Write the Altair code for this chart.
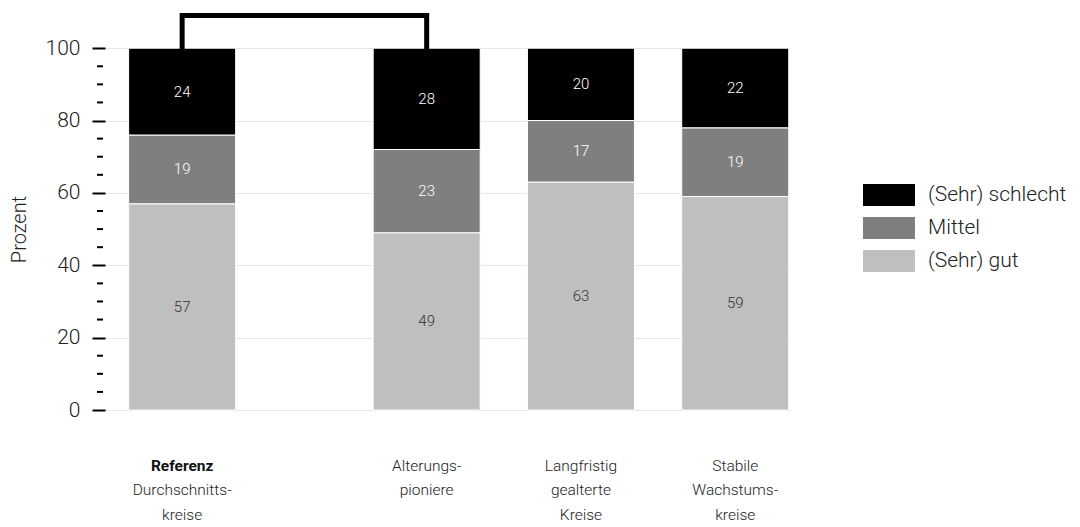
import altair as alt
import pandas as pd

# ---- data ----
categories = ["Referenz", "Alterungspioniere", "Langfristig gealterte Kreise", "Stabile Wachstumskreise"]
slots = [0, 1.585, 2.585, 3.585]  # horizontal slot of each group (gap after reference)
label_bold = ["Referenz", "", "", ""]
label_lines = [
    ["", "Durchschnitts-", "kreise"],
    ["Alterungs-", "pioniere"],
    ["Langfristig", "gealterte", "Kreise"],
    ["Stabile", "Wachstums-", "kreise"],
]
series = ["(Sehr) gut", "Mittel", "(Sehr) schlecht"]  # bottom -> top
gut = [57, 49, 63, 59]
mittel = [19, 23, 17, 19]
schlecht = [24, 28, 20, 22]
legend_order = ["(Sehr) schlecht", "Mittel", "(Sehr) gut"]
legend_colors = ["#000000", "#7f7f7f", "#bfbfbf"]
bracket_cats = ["Referenz", "Referenz", "Alterungspioniere", "Alterungspioniere"]
bracket_levels = [100, 109, 109, 100]
y_major = [0, 20, 40, 60, 80, 100]
y_all_ticks = list(range(0, 101, 5))

FONT = "Roboto"
W = 300
TXT = "#222222"

rows = []
for i, c in enumerate(categories):
    for j, (s, vals) in enumerate(zip(series, [gut, mittel, schlecht])):
        rows.append({"cat": c, "slot": slots[i], "series": s, "value": vals[i], "order": j})
df = pd.DataFrame(rows)

slot_of = dict(zip(categories, slots))
bracket_df = pd.DataFrame({
    "slot": [slot_of[c] for c in bracket_cats],
    "level": bracket_levels,
    "i": list(range(len(bracket_cats))),
})

labels_df = pd.DataFrame({
    "slot": slots,
    "bold": label_bold,
    "text": ["\n".join(l) for l in label_lines],
})

minor_df = pd.DataFrame({"v": [v for v in y_all_ticks if v not in y_major]})

xscale = alt.Scale(domain=[-0.5, 3.94], nice=False, zero=False, padding=0)
yscale = alt.Scale(domain=[0, 110], nice=False)

yaxis = alt.Axis(
    values=y_major,
    tickSize=13,
    tickWidth=2,
    tickColor="#000000",
    domain=False,
    grid=True,
    gridColor="#e6e6e6",
    gridWidth=1,
    labelFont=FONT,
    labelFontSize=21,
    labelFontWeight=W,
    labelColor=TXT,
    labelPadding=12,
    title="Prozent",
    titleFont=FONT,
    titleFontSize=20,
    titleFontWeight=W,
    titleColor=TXT,
    titleX=-80,
    titleY=217,
    titleAngle=270,
    titleBaseline="alphabetic",
    titleAlign="center",
)

base = alt.Chart(df).transform_stack(
    stack="value", groupby=["cat"], as_=["y0", "y1"],
    sort=[alt.SortField("order", order="ascending")],
).transform_calculate(mid="(datum.y0 + datum.y1) / 2")

bars = base.mark_bar(width=107, stroke="white", strokeWidth=1).encode(
    x=alt.X("slot:Q", scale=xscale, axis=None),
    y=alt.Y("y0:Q", scale=yscale, axis=yaxis),
    y2="y1:Q",
    color=alt.Color(
        "series:N",
        scale=alt.Scale(domain=legend_order, range=legend_colors),
        legend=alt.Legend(
            title=None,
            orient="none",
            legendX=771,
            legendY=170,
            symbolType="M-2,-0.846H2V0.846H-2Z",
            symbolSize=676,
            symbolStrokeWidth=0,
            symbolOpacity=1,
            labelFont=FONT,
            labelFontSize=21,
            labelFontWeight=W,
            labelColor=TXT,
            labelOffset=26,
            rowPadding=9,
            padding=0,
        ),
    ),
)

minor_ticks = alt.Chart(minor_df).mark_rule(color="#000000", strokeWidth=2).encode(
    y=alt.Y("v:Q", scale=yscale),
    x=alt.value(-8),
    x2=alt.value(-2),
)

values = base.mark_text(font=FONT, fontSize=15, fontWeight=W, baseline="middle", align="center").encode(
    x=alt.X("slot:Q", scale=xscale),
    y=alt.Y("mid:Q", scale=yscale),
    text="value:Q",
    color=alt.condition("datum.series == '(Sehr) gut'", alt.value("#333333"), alt.value("#ffffff")),
)

bracket = alt.Chart(bracket_df).mark_line(
    color="black", strokeWidth=5, strokeJoin="miter", strokeCap="square"
).encode(
    x=alt.X("slot:Q", scale=xscale),
    y=alt.Y("level:Q", scale=yscale),
    order="i:Q",
)

cat_bold = alt.Chart(labels_df).mark_text(
    font=FONT, fontSize=15.5, fontWeight="bold", color="#111111",
    baseline="alphabetic", align="center",
).encode(
    x=alt.X("slot:Q", scale=xscale),
    y=alt.value(458.5),
    text="bold:N",
)

cat_text = alt.Chart(labels_df).mark_text(
    font=FONT, fontSize=15.5, fontWeight=W, color=TXT, lineBreak="\n", lineHeight=24.5,
    baseline="alphabetic", align="center",
).encode(
    x=alt.X("slot:Q", scale=xscale),
    y=alt.value(458.5),
    text="text:N",
)

chart = alt.layer(bars, minor_ticks, values, bracket, cat_bold, cat_text).properties(
    width=685,
    height=398,
    autosize=alt.AutoSizeParams(type="none"),
    padding={"left": 97, "top": 4, "right": 282, "bottom": 114},
).configure_view(stroke=None)

chart.save("out.html", embed_options={"renderer": "svg", "actions": False})
